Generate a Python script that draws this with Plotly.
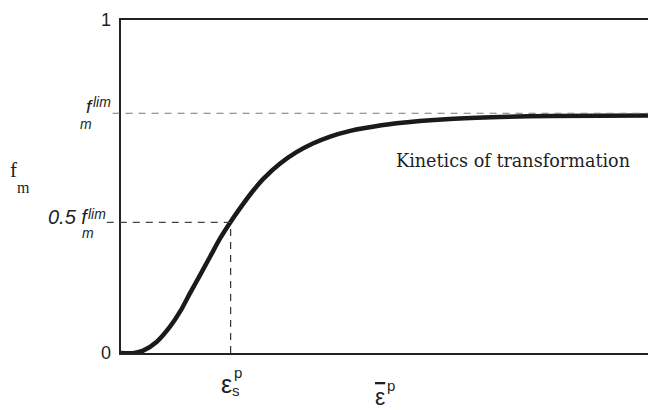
import plotly.graph_objects as go

# Curve data (normalized plastic strain vs. martensite fraction)
strain = [0.0, 0.025, 0.042, 0.068, 0.093, 0.112, 0.131, 0.150, 0.169, 0.188,
          0.206, 0.226, 0.251, 0.270, 0.302, 0.333, 0.364, 0.397, 0.435,
          0.460, 0.523, 0.624, 0.719, 0.814, 1.0]
fm = [0.0, 0.0, 0.007, 0.034, 0.079, 0.124, 0.180, 0.234, 0.289, 0.344,
      0.389, 0.435, 0.488, 0.523, 0.569, 0.603, 0.629, 0.650, 0.667,
      0.675, 0.690, 0.703, 0.709, 0.712, 0.713]

f_lim = 0.72
f_half = 0.392
eps_s = 0.208
y_ticks = [0, 1]
y_ticktext = ["0", "1"]
annotation_text = "Kinetics of transformation"

SANS = "Liberation Sans"
SERIF = "Liberation Serif"
INK = "#1f1f1f"

fig = go.Figure()
fig.add_trace(go.Scatter(x=strain, y=fm, mode="lines",
                         line=dict(color="#1a1a1a", width=4.5, shape="spline", smoothing=0.8),
                         hoverinfo="skip", showlegend=False))

# reference dashed lines
fig.add_shape(type="line", xref="paper", yref="y", x0=-0.016, x1=1, y0=f_lim, y1=f_lim,
              line=dict(color="#777", width=1.2, dash="7px,6px"))
fig.add_shape(type="line", xref="paper", yref="y", x0=-0.027, x1=eps_s, y0=f_half, y1=f_half,
              line=dict(color="#444", width=1.2, dash="7px,6px"))
fig.add_shape(type="line", xref="x", yref="y", x0=eps_s, x1=eps_s, y0=0, y1=f_half,
              line=dict(color="#333", width=1.2, dash="7px,6px"))

ann = []
# y tick labels 0 and 1
for v, t in zip(y_ticks, y_ticktext):
    ann.append(dict(x=0, xref="paper", y=v, yref="y", text=t, showarrow=False,
                    xanchor="right", yanchor="middle", xshift=-8,
                    font=dict(family=SANS, size=18, color=INK)))
# f_m^lim
ann += [
    dict(x=0, xref="paper", y=f_lim, yref="y", text="<i>f</i>", showarrow=False,
         xanchor="right", yanchor="middle", xshift=-26, yshift=7,
         font=dict(family=SANS, size=19, color=INK)),
    dict(x=0, xref="paper", y=f_lim, yref="y", text="<i>lim</i>", showarrow=False,
         xanchor="right", yanchor="middle", xshift=-8, yshift=11,
         font=dict(family=SANS, size=14, color=INK)),
    dict(x=0, xref="paper", y=f_lim, yref="y", text="<i>m</i>", showarrow=False,
         xanchor="right", yanchor="middle", xshift=-27, yshift=-11,
         font=dict(family=SANS, size=14, color=INK)),
    # 0.5 f_m^lim
    dict(x=0, xref="paper", y=f_half, yref="y", text="<i>0.5 f</i>", showarrow=False,
         xanchor="right", yanchor="middle", xshift=-30, yshift=5,
         font=dict(family=SANS, size=20, color=INK)),
    dict(x=0, xref="paper", y=f_half, yref="y", text="<i>lim</i>", showarrow=False,
         xanchor="right", yanchor="middle", xshift=-13, yshift=8,
         font=dict(family=SANS, size=14, color=INK)),
    dict(x=0, xref="paper", y=f_half, yref="y", text="<i>m</i>", showarrow=False,
         xanchor="right", yanchor="middle", xshift=-25, yshift=-11,
         font=dict(family=SANS, size=14, color=INK)),
    # y-axis title f_m
    dict(x=0, xref="paper", y=0.55, yref="paper", text="f", showarrow=False,
         xanchor="left", yanchor="middle", xshift=-113,
         font=dict(family=SERIF, size=21, color=INK)),
    dict(x=0, xref="paper", y=0.55, yref="paper", text="m", showarrow=False,
         xanchor="left", yanchor="middle", xshift=-106, yshift=-18,
         font=dict(family=SERIF, size=16, color=INK)),
    # eps_s^p
    dict(x=eps_s, xref="x", y=0, yref="paper", text="ε", showarrow=False,
         xanchor="center", yanchor="middle", xshift=-4, yshift=-31,
         font=dict(family=SANS, size=25, color=INK)),
    dict(x=eps_s, xref="x", y=0, yref="paper", text="p", showarrow=False,
         xanchor="center", yanchor="middle", xshift=7, yshift=-19,
         font=dict(family=SANS, size=15, color=INK)),
    dict(x=eps_s, xref="x", y=0, yref="paper", text="s", showarrow=False,
         xanchor="center", yanchor="middle", xshift=5, yshift=-37,
         font=dict(family=SANS, size=15, color=INK)),
    # x-axis title eps-bar^p
    dict(x=0.5, xref="paper", y=0, yref="paper",
         text="<span style='text-decoration:overline'>ε</span>", showarrow=False,
         xanchor="center", yanchor="middle", xshift=-5, yshift=-44,
         font=dict(family=SANS, size=23, color=INK)),
    dict(x=0.5, xref="paper", y=0, yref="paper", text="p", showarrow=False,
         xanchor="center", yanchor="middle", xshift=6, yshift=-32,
         font=dict(family=SANS, size=15, color=INK)),
    # in-plot label
    dict(x=0.743, xref="x", y=0.578, yref="y", text=annotation_text, showarrow=False,
         xanchor="center", yanchor="middle",
         font=dict(family="DejaVu Serif", size=17.6, color=INK)),
]

fig.update_layout(
    width=648, height=410,
    margin=dict(l=121, r=0, t=20, b=57),
    paper_bgcolor="white", plot_bgcolor="white",
    annotations=ann,
    xaxis=dict(range=[0, 1], showgrid=False, zeroline=False, showticklabels=False,
               ticks="", showline=True, mirror=True, linecolor="#222", linewidth=1.5),
    yaxis=dict(range=[0, 1], showgrid=False, zeroline=False, showticklabels=False,
               ticks="", showline=True, linecolor="#222", linewidth=1.5),
)

fig.write_html("out.html")
